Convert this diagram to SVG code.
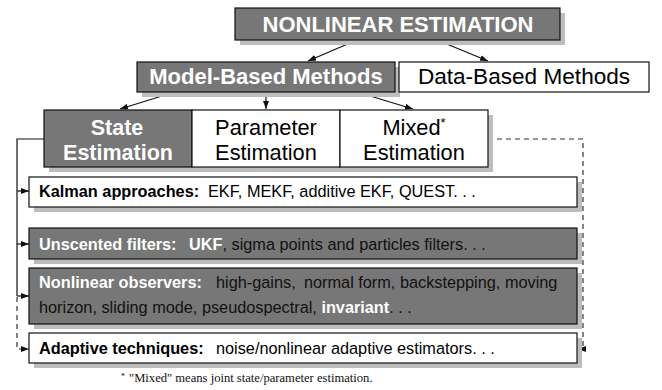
<svg xmlns="http://www.w3.org/2000/svg" width="662" height="390" viewBox="0 0 662 390">
<style>
.sh{fill:#bdbdbd}
.dk{fill:#777;stroke:#111;stroke-width:1.2}
.wt{fill:#fff;stroke:#111;stroke-width:1.2}
.t{font-family:"Liberation Sans",Arial,sans-serif}
.hb{font-weight:bold;fill:#fff}
.b{font-weight:bold}
.c{stroke:#111;stroke-width:1.2;fill:none}
.d{stroke:#333;stroke-width:1.2;fill:none;stroke-dasharray:5,4}
.s{font-size:16.3px}
</style>
<defs>
<marker id="ah" viewBox="0 0 8 6" refX="8" refY="3" markerWidth="8" markerHeight="6" markerUnits="userSpaceOnUse" orient="auto">
<path d="M0,0 L8,3 L0,6 z" fill="#111"/>
</marker>
</defs>
<rect width="662" height="390" fill="#fff"/>
<g id="connectors">
<line class="c" x1="357" y1="40" x2="308" y2="61" marker-end="url(#ah)"/>
<line class="c" x1="437" y1="40" x2="488" y2="61" marker-end="url(#ah)"/>
<line class="c" x1="175" y1="92" x2="120" y2="109" marker-end="url(#ah)"/>
<line class="c" x1="266" y1="92" x2="266" y2="109" marker-end="url(#ah)"/>
<line class="c" x1="357" y1="92" x2="413" y2="109" marker-end="url(#ah)"/>
<path class="c" d="M44,139 H17 V296"/>
<path class="c" d="M17,191 H29" marker-end="url(#ah)"/>
<path class="c" d="M17,244 H29" marker-end="url(#ah)"/>
<path class="c" d="M17,296 H29" marker-end="url(#ah)"/>
<path class="d" d="M17,297 V349 H29" marker-end="url(#ah)"/>
<path class="d" d="M488,139 H583 V349 H578" marker-end="url(#ah)"/>
</g>
<g id="nonlinear">
<rect class="sh" x="240" y="13" width="325" height="32"/>
<rect class="dk" x="235" y="8" width="325" height="32"/>
<text class="t hb" x="398" y="32" font-size="22" text-anchor="middle">NONLINEAR ESTIMATION</text>
</g>
<g id="model">
<rect class="sh" x="142" y="67" width="258" height="30"/>
<rect class="dk" x="137" y="62" width="258" height="30"/>
<text class="t hb" x="266" y="84" font-size="22" text-anchor="middle">Model-Based Methods</text>
</g>
<g id="data">
<rect class="wt" x="399" y="62" width="250" height="30"/>
<text class="t" x="524" y="84" font-size="22.6" text-anchor="middle">Data-Based Methods</text>
</g>
<g id="row-shadow">
<rect class="sh" x="49" y="115" width="444" height="57"/>
</g>
<g id="state">
<rect class="dk" x="44" y="110" width="148" height="57"/>
<text class="t hb" x="117" y="135" font-size="21.5" text-anchor="middle">State</text>
<text class="t hb" x="118" y="160" font-size="21.5" text-anchor="middle">Estimation</text>
</g>
<g id="parameter">
<rect class="wt" x="192" y="110" width="148" height="57"/>
<text class="t" x="266" y="135" font-size="21.8" text-anchor="middle">Parameter</text>
<text class="t" x="266" y="160" font-size="21.8" text-anchor="middle">Estimation</text>
</g>
<g id="mixed">
<rect class="wt" x="340" y="110" width="148" height="57"/>
<text class="t" x="414" y="135" font-size="21.8" text-anchor="middle">Mixed<tspan font-size="13" dy="-8">*</tspan></text>
<text class="t" x="414" y="160" font-size="21.8" text-anchor="middle">Estimation</text>
</g>
<g id="kalman">
<rect class="sh" x="34" y="182" width="548" height="30"/>
<rect class="wt" x="29" y="177" width="548" height="30"/>
<text class="t s" y="197"><tspan class="b" x="39">Kalman approaches:</tspan><tspan x="208">EKF, MEKF, additive EKF, QUEST. . .</tspan></text>
</g>
<g id="unscented">
<rect class="sh" x="34" y="233" width="548" height="31"/>
<rect class="dk" x="29" y="228" width="548" height="31"/>
<text class="t s" y="250" fill="#111"><tspan class="hb" x="39">Unscented filters:</tspan><tspan class="hb" x="189">UKF</tspan><tspan>, sigma points and particles filters. . .</tspan></text>
</g>
<g id="observers">
<rect class="sh" x="34" y="273" width="548" height="56"/>
<rect class="dk" x="29" y="268" width="548" height="56"/>
<text class="t s" y="288" fill="#111"><tspan class="hb" x="39">Nonlinear observers:</tspan><tspan x="216">high-gains,</tspan><tspan x="304">normal form, backstepping, moving</tspan></text>
<text class="t s" x="39" y="313" fill="#111">horizon, sliding mode, pseudospectral, <tspan class="hb">invariant</tspan>. . .</text>
</g>
<g id="adaptive">
<rect class="sh" x="34" y="338" width="548" height="30"/>
<rect class="wt" x="29" y="333" width="548" height="30"/>
<text class="t s" y="354"><tspan class="b" x="39">Adaptive techniques:</tspan><tspan x="216">noise/nonlinear adaptive estimators. . .</tspan></text>
</g>
<g id="footnote">
<text y="382" font-family="Liberation Serif,'Times New Roman',serif" font-size="12.6" fill="#111"><tspan x="121" font-size="8" dy="-3">*</tspan><tspan x="129" dy="3">"Mixed" means joint state/parameter estimation.</tspan></text>
</g>
</svg>
